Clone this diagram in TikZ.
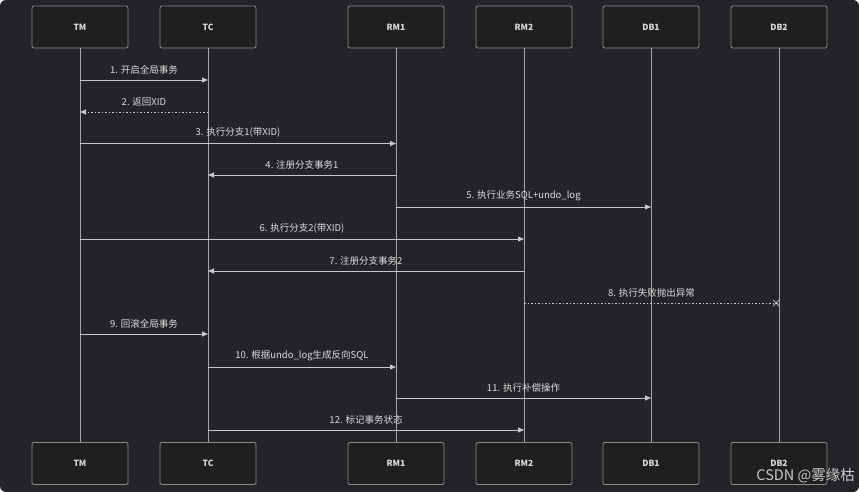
\documentclass[tikz,border=0pt]{standalone}
\usepackage{fontspec}
\setmainfont{Noto Sans CJK SC}
\usetikzlibrary{arrows.meta,shapes.misc}
\definecolor{bg}{HTML}{232428}
\definecolor{boxfill}{HTML}{1E1F1F}
\definecolor{boxline}{HTML}{8C8C8C}
\definecolor{lifeline}{HTML}{A8A8A8}
\definecolor{msgline}{HTML}{C8C8C8}
\definecolor{txt}{HTML}{DCDCDC}
\tikzset{
  actor/.style={draw=boxline, fill=boxfill, rounded corners=2pt, line width=.8pt,
    minimum width=96pt, minimum height=42pt, inner sep=0pt, text=txt,
    font=\fontsize{8.5}{10}\selectfont\bfseries},
  msg/.style={draw=msgline, line width=.8pt, -{Triangle[length=6pt,width=5pt]}},
  reply/.style={msg, dash pattern=on 1.5pt off 2pt},
  fail/.style={draw=msgline, line width=.8pt, dash pattern=on 1.5pt off 2pt},
  lbl/.style={text=txt, font=\fontsize{9.5}{11}\selectfont, above=5.5pt, inner sep=0pt}
}
\begin{document}
\begin{tikzpicture}[x=1pt, y=-1pt]
  \fill[bg, rounded corners=6pt] (0,0) rectangle (859,492);
  \useasboundingbox (0,0) rectangle (859,492);
  % Đối tượng trên và dưới
  \foreach \n/\x in {TM/80, TC/208, RM1/396, RM2/524, DB1/651, DB2/779}{
    \node[actor] (\n) at (\x,27) {\n};
    \node[actor] (\n b) at (\x,463.5) {\n};
    \draw[lifeline, line width=.8pt] (\n.south) -- (\n b.north);
  }
  % Thông điệp
  \foreach \r/\a/\b/\y/\sty/\txt in {
      1/TM/TC/80/msg/{1. 开启全局事务},
      2/TC/TM/112/reply/{2. 返回XID},
      3/TM/RM1/143.5/msg/{3. 执行分支1(带XID)},
      4/RM1/TC/175/msg/{4. 注册分支事务1},
      5/RM1/DB1/207/msg/{5. 执行业务SQL+undo\_log},
      6/TM/RM2/239/msg/{6. 执行分支2(带XID)},
      7/RM2/TC/271/msg/{7. 注册分支事务2},
      8/RM2/DB2/303/fail/{8. 执行失败抛出异常},
      9/TM/TC/334/msg/{9. 回滚全局事务},
      10/TC/RM1/367/msg/{10. 根据undo\_log生成反向SQL},
      11/RM1/DB1/398/msg/{11. 执行补偿操作},
      12/TC/RM2/430/msg/{12. 标记事务状态}}{
    \coordinate (m\r s) at (\a.south |- 0,\y);
    \coordinate (m\r e) at (\b.south |- 0,\y);
    \draw[\sty] (m\r s) -- node[lbl]{\txt} (m\r e);
  }
  % Dấu x ở cuối thông điệp 8
  \node[cross out, draw=msgline, line width=.8pt, minimum size=5pt, inner sep=0pt, anchor=east] (m8x) at (m8e) {};
  % Watermark
  \node[anchor=east, text=msgline, font=\fontsize{14.5}{17}\selectfont, inner sep=0pt] (mark) at (855,476) {CSDN @雾缘枯};
\end{tikzpicture}
\end{document}
